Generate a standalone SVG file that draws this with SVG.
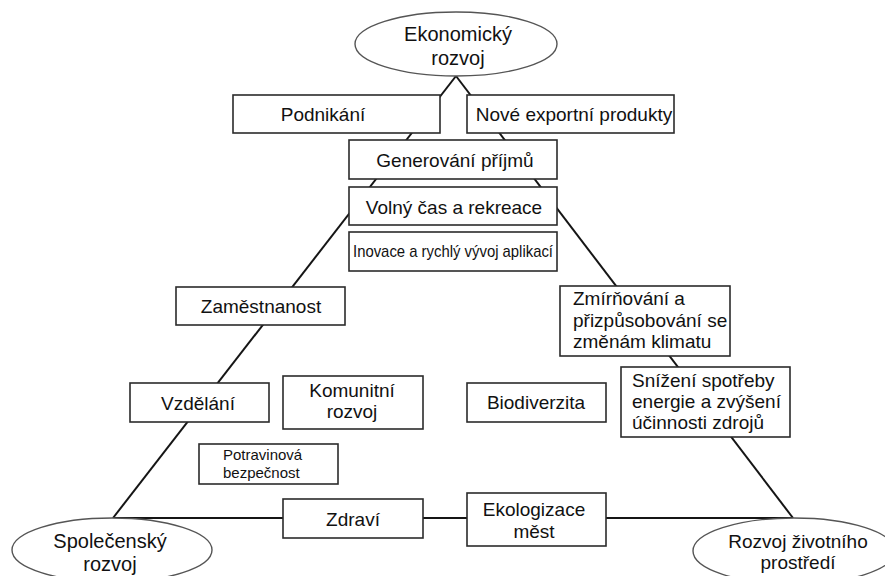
<svg xmlns="http://www.w3.org/2000/svg" width="885" height="576" viewBox="0 0 885 576">
<style>
.bg{fill:#ffffff}
.box{fill:#ffffff;stroke:#2b2b2b;stroke-width:1.6}
.ell{fill:#ffffff;stroke:#555555;stroke-width:1.4}
.ln{stroke:#151515;stroke-width:2;fill:none}
text{font-family:"Liberation Sans",Arial,sans-serif;font-size:19px;fill:#111111}
.c{text-anchor:middle}
.e{font-size:20px}
.s{font-size:15px}
</style>
<rect class="bg" x="0" y="0" width="885" height="576"/>
<g id="connectors">
<line class="ln" x1="456" y1="76" x2="113" y2="518"/>
<line class="ln" x1="456" y1="76" x2="793" y2="518"/>
<line class="ln" x1="113" y1="518" x2="793" y2="518"/>
</g>
<g id="ekonomicky">
<ellipse class="ell" cx="456" cy="44" rx="101" ry="32"/>
<text class="c e" x="458" y="41">Ekonomický</text>
<text class="c e" x="458" y="65">rozvoj</text>
</g>
<g id="spolecensky">
<ellipse class="ell" cx="112" cy="550" rx="100" ry="32"/>
<text class="c e" x="110" y="548">Společenský</text>
<text class="c e" x="110" y="571">rozvoj</text>
</g>
<g id="zivotni">
<ellipse class="ell" cx="794" cy="551" rx="101" ry="33"/>
<text class="c" x="798" y="548">Rozvoj životního</text>
<text class="c" x="798" y="569">prostředí</text>
</g>
<g id="podnikani">
<rect class="box" x="233" y="95" width="207" height="38"/>
<text class="c" x="323" y="121">Podnikání</text>
</g>
<g id="export">
<rect class="box" x="467" y="95" width="207" height="38"/>
<text class="c" x="574" y="121">Nové exportní produkty</text>
</g>
<g id="generovani">
<rect class="box" x="349" y="140" width="208" height="39"/>
<text class="c" x="455" y="167">Generování příjmů</text>
</g>
<g id="volny">
<rect class="box" x="349" y="187" width="208" height="38"/>
<text class="c" x="454" y="214">Volný čas a rekreace</text>
</g>
<g id="inovace">
<rect class="box" x="349" y="232" width="208" height="39"/>
<text x="353" y="257" style="font-size:17px" textLength="200" lengthAdjust="spacingAndGlyphs">Inovace a rychlý vývoj aplikací</text>
</g>
<g id="zamestnanost">
<rect class="box" x="176" y="287" width="169" height="38"/>
<text class="c" x="261" y="313">Zaměstnanost</text>
</g>
<g id="zmirnovani">
<rect class="box" x="560" y="286" width="170" height="70"/>
<text x="573" y="305">Zmírňování a</text>
<text x="573" y="327">přizpůsobování se</text>
<text x="573" y="348">změnám klimatu</text>
</g>
<g id="vzdelani">
<rect class="box" x="130" y="383" width="139" height="39"/>
<text class="c" x="198" y="410">Vzdělání</text>
</g>
<g id="komunitni">
<rect class="box" x="283" y="376" width="140" height="53"/>
<text class="c" x="352" y="397">Komunitní</text>
<text class="c" x="352" y="418">rozvoj</text>
</g>
<g id="biodiverzita">
<rect class="box" x="467" y="383" width="139" height="39"/>
<text class="c" x="536" y="409">Biodiverzita</text>
</g>
<g id="snizeni">
<rect class="box" x="621" y="367" width="169" height="70"/>
<text x="632" y="387">Snížení spotřeby</text>
<text x="632" y="408">energie a zvýšení</text>
<text x="632" y="429">účinnosti zdrojů</text>
</g>
<g id="potravinova">
<rect class="box" x="199" y="444" width="139" height="40"/>
<text class="s" x="223" y="460">Potravinová</text>
<text class="s" x="223" y="478">bezpečnost</text>
</g>
<g id="zdravi">
<rect class="box" x="283" y="499" width="140" height="39"/>
<text class="c" x="353" y="526">Zdraví</text>
</g>
<g id="ekologizace">
<rect class="box" x="467" y="493" width="139" height="53"/>
<text class="c" x="534" y="516">Ekologizace</text>
<text class="c" x="534" y="538">měst</text>
</g>
</svg>
